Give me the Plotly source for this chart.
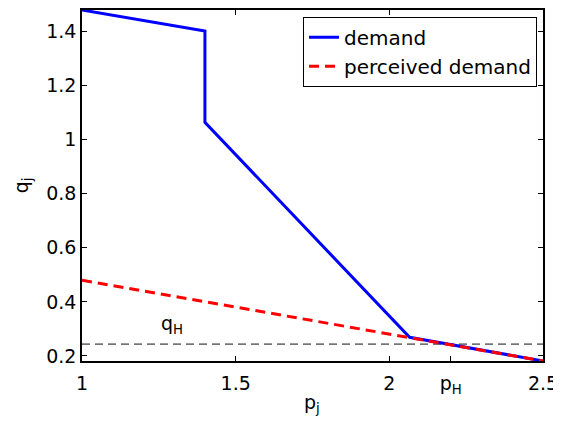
import plotly.graph_objects as go

# demand curve (kinked) and perceived demand line
demand_p = [1.0, 1.4, 1.4, 2.066, 2.5]
demand_q = [1.478, 1.40, 1.063, 0.269, 0.1815]
perceived_p = [1.0, 2.066, 2.5]
perceived_q = [0.48, 0.267, 0.1815]

q_H = 0.244
p_H = 2.2

x_ticks = [1, 1.5, 2, p_H, 2.5]
x_ticktext = ["1", "1.5", "2", "p<sub>H</sub>", "2.5"]
y_ticks = [0.2, 0.4, 0.6, 0.8, 1.0, 1.2, 1.4]
y_ticktext = ["0.2", "0.4", "0.6", "0.8", "1", "1.2", "1.4"]

font = dict(family="DejaVu Sans, sans-serif", size=19, color="black")

fig = go.Figure()
fig.add_trace(go.Scatter(x=[1.0, 2.5], y=[q_H, q_H], mode="lines",
                         line=dict(color="#111111", width=1, dash="8px,5px"),
                         showlegend=False, hoverinfo="skip"))
fig.add_trace(go.Scatter(x=demand_p, y=demand_q, mode="lines", name="demand",
                         line=dict(color="#0000ff", width=3)))
fig.add_trace(go.Scatter(x=perceived_p, y=perceived_q, mode="lines", name="perceived demand",
                         line=dict(color="#ff0000", width=3, dash="10px,6px")))
# top axis ticks (box style)
fig.add_trace(go.Scatter(x=[1, 2.5], y=[None, None], xaxis="x2", showlegend=False, hoverinfo="skip"))

fig.add_annotation(x=1.293, y=0.315, text="q<sub>H</sub>", showarrow=False, font=font)
# axis titles
fig.add_annotation(xref="paper", yref="paper", x=0.499, y=-0.12, text="p<sub>j</sub>",
                   showarrow=False, font=font, xanchor="center", yanchor="middle")
fig.add_annotation(xref="paper", yref="paper", x=-0.13, y=0.501, text="q<sub>j</sub>",
                   showarrow=False, font=font, textangle=-90, xanchor="center", yanchor="middle")

# page body has an 8px margin, so the figure is 8px smaller and margins shifted
fig.update_layout(
    width=553, height=417,
    margin=dict(l=74, r=18, t=2, b=64, autoexpand=False),
    plot_bgcolor="white", paper_bgcolor="white",
    font=font,
    xaxis=dict(range=[1, 2.5], tickvals=x_ticks, ticktext=x_ticktext,
               ticks="inside", ticklen=5, tickcolor="black", ticklabelstandoff=4,
               showline=True, linecolor="black", linewidth=1.5,
               showgrid=False, zeroline=False, automargin=False),
    xaxis2=dict(range=[1, 2.5], overlaying="x", side="top", tickvals=[1, 1.5, 2, 2.5],
                showticklabels=False, ticks="inside", ticklen=5, tickcolor="black",
                showline=True, linecolor="black", linewidth=1.5, showgrid=False,
                zeroline=False, automargin=False),
    yaxis=dict(range=[0.1815, 1.478], tickvals=y_ticks, ticktext=y_ticktext,
               ticks="inside", ticklen=5, tickcolor="black",
               showline=True, linecolor="black", linewidth=1.5, mirror="ticks",
               showgrid=False, zeroline=False, automargin=False),
    legend=dict(x=0.987, y=0.981, xanchor="right", yanchor="top",
                bordercolor="black", borderwidth=1, bgcolor="white",
                font=dict(family="DejaVu Sans, sans-serif", size=20, color="black"),
                tracegroupgap=0),
)

fig.write_html("out.html")
